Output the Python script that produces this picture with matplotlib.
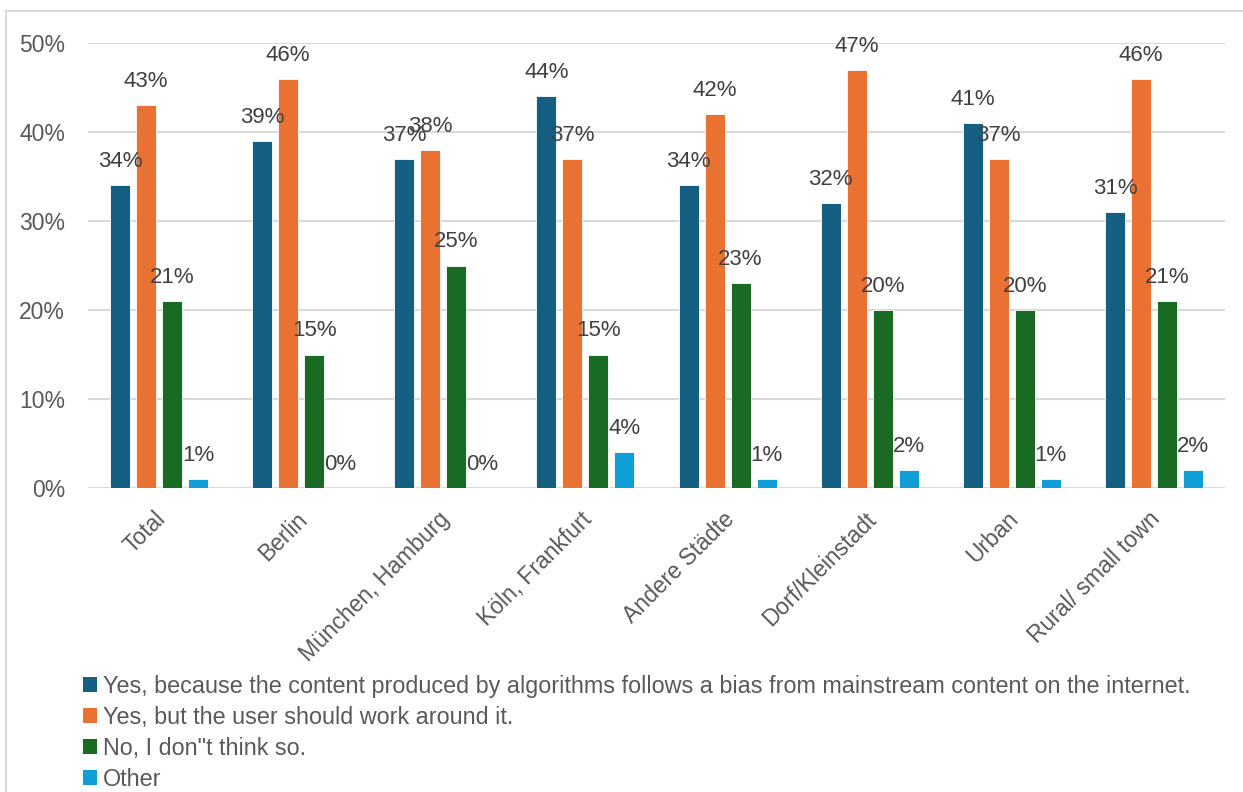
import matplotlib
matplotlib.use("Agg")
import matplotlib.pyplot as plt
import numpy as np
from matplotlib import font_manager
from matplotlib.lines import Line2D
from matplotlib.patches import Patch
from matplotlib.transforms import ScaledTranslation

categories = ["Total", "Berlin", "München, Hamburg", "Köln, Frankfurt",
              "Andere Städte", "Dorf/Kleinstadt", "Urban", "Rural/ small town"]
series_names = [
    "Yes, because the content produced by algorithms follows a bias from mainstream content on the internet.",
    "Yes, but the user should work around it.",
    "No, I don\"t think so.",
    "Other",
]
yes_bias = [34, 39, 37, 44, 34, 32, 41, 31]
yes_workaround = [43, 46, 38, 37, 42, 47, 37, 46]
no_dont_think = [21, 15, 25, 15, 23, 20, 20, 21]
other = [1, 0, 0, 4, 1, 2, 1, 2]
yticks = [0, 10, 20, 30, 40, 50]

colors = ["#156082", "#E97132", "#196B24", "#0F9ED5"]
series = [yes_bias, yes_workaround, no_dont_think, other]

available = {f.name for f in font_manager.fontManager.ttflist}
main_font = "Liberation Sans" if "Liberation Sans" in available else "DejaVu Sans"

W, H = 1243, 792
fig = plt.figure(figsize=(W / 100, H / 100), dpi=100)
ax = fig.add_axes([88 / W, 1 - 488 / H, (1225 - 88) / W, (488 - 43) / H])

x = np.arange(len(categories))
step = 0.183
width = 0.141
offsets = (np.arange(4) - 1.5) * step

for vals, col, off in zip(series, colors, offsets):
    ax.bar(x + off, vals, width, color=col, edgecolor="white", linewidth=0.6, zorder=3)
    for xi, v in zip(x, vals):
        ax.annotate(f"{v}%", (xi + off, v), xytext=(0, 13), textcoords="offset points",
                    ha="center", va="baseline", fontsize=16, color="#404040",
                    family=main_font, zorder=4)

ax.set_xlim(-0.5, len(categories) - 0.5)
ax.set_ylim(0, 50)
ax.set_yticks(yticks)
ax.set_yticklabels([f"{t}%" for t in yticks], fontsize=16.5, color="#595959", family=main_font)
ax.yaxis.grid(True, color="#d9d9d9", linewidth=1.5, zorder=0)
ax.tick_params(axis="y", length=0, pad=16.5)
ax.tick_params(axis="x", length=0, pad=20)
for s in ax.spines.values():
    s.set_visible(False)

ax.set_xticks(x)
ax.set_xticklabels(categories, rotation=45, ha="right", va="center",
                   rotation_mode="anchor", fontsize=16.5, color="#595959", family=main_font)
shift = ScaledTranslation(3 / 100, 0, fig.dpi_scale_trans)
for lab in ax.get_xticklabels():
    lab.set_transform(lab.get_transform() + shift)

handles = [Patch(facecolor=c, edgecolor="none") for c in colors]
leg = fig.legend(handles, series_names, loc="upper left",
                 bbox_to_anchor=(83 / W, 1 - 675 / H), frameon=False,
                 prop={"family": main_font, "size": 16.8},
                 handlelength=0.6, handleheight=0.6, handletextpad=0.26,
                 labelspacing=0.34, borderpad=0, borderaxespad=0)
for t in leg.get_texts():
    t.set_color("#595959")

# light frame around the chart area
fig.add_artist(Line2D([6 / W, 1], [1 - 11 / H, 1 - 11 / H], color="#d9d9d9", linewidth=1.5))
fig.add_artist(Line2D([6 / W, 6 / W], [0, 1 - 11 / H], color="#d9d9d9", linewidth=1.5))

fig.savefig("out.png", dpi=100, facecolor="white")
